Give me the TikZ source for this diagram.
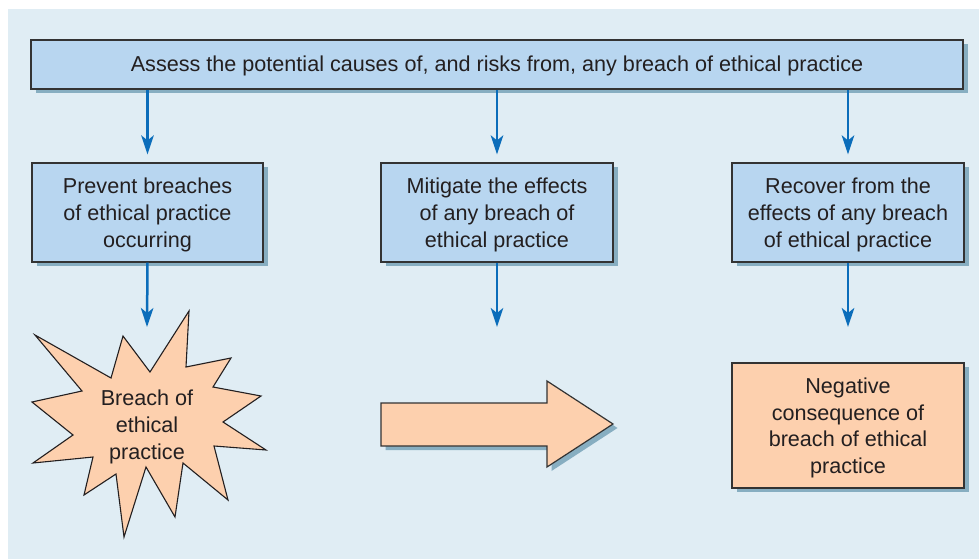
\documentclass[tikz,border=0pt]{standalone}
\usepackage{fontspec}
\setmainfont{Liberation Sans}
\usetikzlibrary{arrows.meta,shadows}
\definecolor{bgc}{HTML}{E0EDF4}
\definecolor{boxblue}{HTML}{B8D6F0}
\definecolor{boxorange}{HTML}{FDD0AE}
\definecolor{shadowc}{HTML}{87AEC1}
\definecolor{arrowc}{HTML}{0B6DBA}
\definecolor{edgec}{HTML}{333333}
\definecolor{textc}{HTML}{231F20}
\newcommand{\lowtext}[2][2.5pt]{\raisebox{-#1}[\height][\depth]{\parbox{225pt}{\centering #2}}}
\tikzset{
  txt/.style={font=\fontsize{21.6}{26.7}\selectfont, text=textc, align=center},
  bluebox/.style={txt, draw=edgec, line width=1.2pt, fill=boxblue, rectangle,
    general shadow={fill=shadowc, shadow xshift=4.5pt, shadow yshift=-4pt}},
  orangebox/.style={txt, draw=edgec, line width=1.2pt, fill=boxorange, rectangle,
    general shadow={fill=shadowc, shadow xshift=4.5pt, shadow yshift=-4pt}},
  arr/.style={draw=arrowc, line width=2.5pt, -{Stealth[length=19pt,width=12.5pt,inset=5pt]}},
}
\begin{document}
\begin{tikzpicture}[x=1pt,y=-1pt]
\useasboundingbox (0,0) rectangle (979,559);
\fill[white] (0,0) rectangle (979,559);
\fill[bgc] (8,9) rectangle (979,559);

% top box
\node[bluebox, minimum width=932pt, minimum height=49pt, inner sep=0pt] (assess) at (497,64.5)
  {\raisebox{-1.5pt}[\height][\depth]{Assess the potential causes of, and risks from, any breach of ethical practice}};

% three boxes
\node[bluebox, minimum width=231pt, minimum height=99pt, inner sep=0pt] (prevent) at (147.5,212.5)
  {\lowtext{Prevent breaches\\of ethical practice\\occurring}};
\node[bluebox, minimum width=232pt, minimum height=99pt, inner sep=0pt] (mitigate) at (497,212.5)
  {\lowtext{Mitigate the effects\\of any breach of\\ethical practice}};
\node[bluebox, minimum width=232pt, minimum height=99pt, inner sep=0pt] (recover) at (848,212.5)
  {\lowtext{Recover from the\\effects of any breach\\of ethical practice}};

% arrows from top box
\draw[arr, shorten >=8pt] (assess.south -| prevent.north) -- (prevent.north);
\draw[arr, shorten >=8pt] (assess.south -| mitigate.north) -- (mitigate.north);
\draw[arr, shorten >=8pt] (assess.south -| recover.north) -- (recover.north);

% starburst
\draw[fill=boxorange, draw=textc, line width=1.1pt, line join=miter]
  (35,335) -- (111,378) -- (123,336) -- (150,372) -- (189,311) -- (186,367) --
  (231,358) -- (213,387) -- (261,396) -- (223,422) -- (266,450) -- (214,446) --
  (228,500) -- (183,463) -- (175,517) -- (146,467) -- (124,537) -- (116,474) --
  (84,495) -- (93,457) -- (33,463) -- (73,435) -- (32,402) -- (82,391) -- cycle;
\node[txt, inner sep=0pt] (breach) at (147,427) {Breach of\\ethical\\practice};

% block arrow
\fill[shadowc] (385.5,407) -- (551.5,407) -- (551.5,385) -- (617.5,428) -- (551.5,471) -- (551.5,450) -- (385.5,450) -- cycle;
\draw[fill=boxorange, draw=edgec, line width=1.2pt]
  (381,403) -- (547,403) -- (547,381) -- (613,424) -- (547,467) -- (547,446) -- (381,446) -- cycle;
\coordinate (blockarrow) at (497,424);

% negative consequence box
\node[orangebox, minimum width=232pt, minimum height=125pt, inner sep=0pt] (negative) at (848,425.5)
  {\lowtext[2.5pt]{Negative\\consequence of\\breach of ethical\\practice}};

% lower arrows
\coordinate (endA) at (147,327);
\coordinate (endB) at (497,327);
\coordinate (endC) at (848,327);
\draw[arr] (prevent.south) -- (endA);
\draw[arr] (mitigate.south) -- (endB);
\draw[arr] (recover.south) -- (endC);
\end{tikzpicture}
\end{document}
